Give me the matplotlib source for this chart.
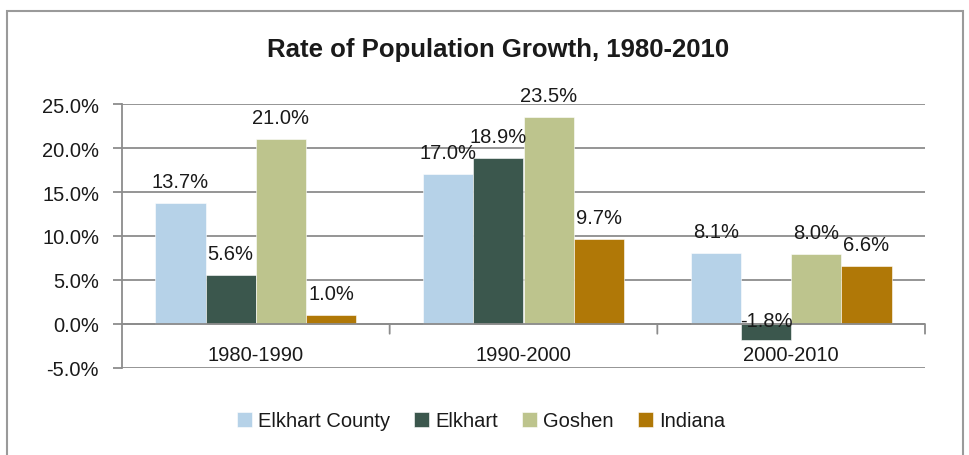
import matplotlib
matplotlib.use("Agg")
import matplotlib.pyplot as plt
import matplotlib.patches as mpatches
import numpy as np

plt.rcParams['font.family'] = ['Liberation Sans', 'DejaVu Sans']

periods = ["1980-1990", "1990-2000", "2000-2010"]
series_names = ["Elkhart County", "Elkhart", "Goshen", "Indiana"]
elkhart_county = [13.7, 17.0, 8.1]
elkhart = [5.6, 18.9, -1.8]
goshen = [21.0, 23.5, 8.0]
indiana = [1.0, 9.7, 6.6]
series_values = [elkhart_county, elkhart, goshen, indiana]
colors = ["#B6D2E8", "#3B574D", "#BDC48D", "#B07807"]
yticks = [-5, 0, 5, 10, 15, 20, 25]
ytick_labels = ["-5.0%", "0.0%", "5.0%", "10.0%", "15.0%", "20.0%", "25.0%"]
title = "Rate of Population Growth, 1980-2010"

W, H = 970, 456
FS = 14.5
fig = plt.figure(figsize=(W / 100, H / 100), dpi=100)
fig.patch.set_facecolor("white")

# outer frame
fig.patches.append(mpatches.Rectangle((7 / W, -0.02), (963 - 7) / W, 1.02 - 12 / H,
                                      transform=fig.transFigure, fill=False,
                                      edgecolor="#9a9a9a", linewidth=1.5))

ax = fig.add_axes([122 / W, 1 - 369 / H, (925 - 122) / W, (369 - 105) / H])
gcol = "#8c8c8c"
ax.set_ylim(-5, 25)
ax.set_xlim(-0.5, len(periods) - 0.5)
ax.set_yticks(yticks)
ax.set_yticklabels(ytick_labels, fontsize=FS, color="#1a1a1a")
ax.tick_params(axis="y", length=6.5, width=1.3, color=gcol, pad=10)
ax.set_xticks([])
for s in ["top", "right", "bottom"]:
    ax.spines[s].set_visible(False)
ax.spines["left"].set_color(gcol)
ax.spines["left"].set_linewidth(1.3)
ax.yaxis.grid(True, color=gcol, linewidth=1.3)
ax.set_axisbelow(True)
ax.axhline(0, color=gcol, linewidth=1.3, zorder=3)

n = len(series_names)
bw = 0.75 / n
x = np.arange(len(periods))
for i, (name, vals, c) in enumerate(zip(series_names, series_values, colors)):
    xs = x + (i - (n - 1) / 2) * bw
    ax.bar(xs, vals, width=bw, color=c, edgecolor="white", linewidth=0.4, label=name, zorder=2)
    for xi, v in zip(xs, vals):
        if v >= 0:
            ax.annotate(f"{v:.1f}%", (xi, v), xytext=(0, 11.5), textcoords="offset points",
                        ha="center", va="baseline", fontsize=FS, color="#1a1a1a", zorder=5)
        else:
            ax.annotate(f"{v:.1f}%", (xi, 0), xytext=(0, -1.5), textcoords="offset points",
                        ha="center", va="baseline", fontsize=FS, color="#1a1a1a", zorder=5)

# category boundary ticks on the zero line
for b in np.arange(0.5, len(periods), 1.0):
    ax.annotate("", xy=(b, 0), xytext=(0, -7), textcoords="offset points",
                arrowprops=dict(arrowstyle="-", color=gcol, lw=1.3, shrinkA=0, shrinkB=0))

for xi, p in zip(x, periods):
    ax.annotate(p, (xi, 0), xytext=(0, -22), textcoords="offset points",
                ha="center", va="center", fontsize=FS, color="#1a1a1a")

fig.text(498 / W, 1 - 50 / H, title, ha="center", va="center", fontsize=18.5,
         fontweight="bold", color="#1a1a1a")

fig.legend(loc="center", bbox_to_anchor=(481 / W, 1 - 422 / H), ncol=4, frameon=False,
           fontsize=FS, handlelength=0.75, handleheight=0.75, handletextpad=0.3,
           columnspacing=1.2, labelcolor="#1a1a1a")

fig.savefig("out.png", dpi=100, facecolor="white")
